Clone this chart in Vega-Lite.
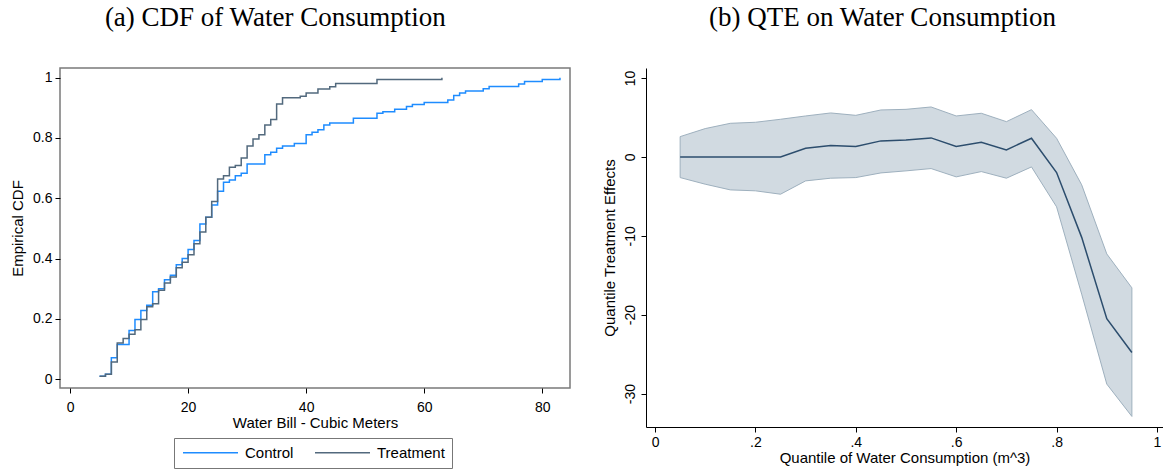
{
  "$schema": "https://vega.github.io/schema/vega-lite/v6.json",
  "padding": {"left": 9, "top": 3, "right": 0, "bottom": 0},
  "spacing": 31,
  "config": {
    "font": "Liberation Sans",
    "view": {"stroke": null},
    "axis": {"labelFont": "Liberation Sans", "labelFontSize": 14, "titleFont": "Liberation Sans", "titleFontSize": 15, "titleFontWeight": "normal", "labelColor": "#000", "titleColor": "#000", "tickColor": "#000", "domainColor": "#000", "grid": false, "tickSize": 5},
    "title": {"font": "Liberation Serif", "fontSize": 27, "fontWeight": "normal", "color": "#000", "anchor": "middle", "frame": "bounds"}
  },
  "hconcat": [
    {
      "title": {"text": "(a) CDF of Water Consumption", "offset": 36, "dx": -15},
      "width": 510,
      "height": 320,
      "view": {"stroke": "#7a7a7a", "strokeWidth": 1.5},
      "data": {"values": [
        {"group": "Control", "bill": 5, "cdf": 0.01},
        {"group": "Control", "bill": 6, "cdf": 0.017},
        {"group": "Control", "bill": 7, "cdf": 0.071},
        {"group": "Control", "bill": 8, "cdf": 0.115},
        {"group": "Control", "bill": 10, "cdf": 0.162},
        {"group": "Control", "bill": 11, "cdf": 0.198},
        {"group": "Control", "bill": 12, "cdf": 0.228},
        {"group": "Control", "bill": 13, "cdf": 0.245},
        {"group": "Control", "bill": 14, "cdf": 0.29},
        {"group": "Control", "bill": 15, "cdf": 0.30},
        {"group": "Control", "bill": 16, "cdf": 0.33},
        {"group": "Control", "bill": 17, "cdf": 0.345},
        {"group": "Control", "bill": 18, "cdf": 0.38},
        {"group": "Control", "bill": 19, "cdf": 0.40},
        {"group": "Control", "bill": 20, "cdf": 0.43},
        {"group": "Control", "bill": 21, "cdf": 0.46},
        {"group": "Control", "bill": 22, "cdf": 0.515},
        {"group": "Control", "bill": 23, "cdf": 0.537},
        {"group": "Control", "bill": 24, "cdf": 0.578},
        {"group": "Control", "bill": 25, "cdf": 0.623},
        {"group": "Control", "bill": 26, "cdf": 0.653},
        {"group": "Control", "bill": 27, "cdf": 0.661},
        {"group": "Control", "bill": 28, "cdf": 0.675},
        {"group": "Control", "bill": 29, "cdf": 0.683},
        {"group": "Control", "bill": 30, "cdf": 0.714},
        {"group": "Control", "bill": 33, "cdf": 0.744},
        {"group": "Control", "bill": 34, "cdf": 0.753},
        {"group": "Control", "bill": 35, "cdf": 0.766},
        {"group": "Control", "bill": 36, "cdf": 0.773},
        {"group": "Control", "bill": 38, "cdf": 0.782},
        {"group": "Control", "bill": 40, "cdf": 0.811},
        {"group": "Control", "bill": 41, "cdf": 0.819},
        {"group": "Control", "bill": 42, "cdf": 0.827},
        {"group": "Control", "bill": 43, "cdf": 0.843},
        {"group": "Control", "bill": 44, "cdf": 0.85},
        {"group": "Control", "bill": 48, "cdf": 0.865},
        {"group": "Control", "bill": 52, "cdf": 0.882},
        {"group": "Control", "bill": 53, "cdf": 0.887},
        {"group": "Control", "bill": 55, "cdf": 0.895},
        {"group": "Control", "bill": 57, "cdf": 0.904},
        {"group": "Control", "bill": 58, "cdf": 0.911},
        {"group": "Control", "bill": 60, "cdf": 0.918},
        {"group": "Control", "bill": 64, "cdf": 0.926},
        {"group": "Control", "bill": 65, "cdf": 0.941},
        {"group": "Control", "bill": 66, "cdf": 0.949},
        {"group": "Control", "bill": 67, "cdf": 0.956},
        {"group": "Control", "bill": 70, "cdf": 0.963},
        {"group": "Control", "bill": 71, "cdf": 0.971},
        {"group": "Control", "bill": 76, "cdf": 0.979},
        {"group": "Control", "bill": 77, "cdf": 0.987},
        {"group": "Control", "bill": 80, "cdf": 0.994},
        {"group": "Control", "bill": 83, "cdf": 1.0},
        {"group": "Treatment", "bill": 5, "cdf": 0.01},
        {"group": "Treatment", "bill": 6, "cdf": 0.017},
        {"group": "Treatment", "bill": 7, "cdf": 0.057},
        {"group": "Treatment", "bill": 8, "cdf": 0.12},
        {"group": "Treatment", "bill": 9, "cdf": 0.135},
        {"group": "Treatment", "bill": 10, "cdf": 0.149},
        {"group": "Treatment", "bill": 11, "cdf": 0.164},
        {"group": "Treatment", "bill": 12, "cdf": 0.198},
        {"group": "Treatment", "bill": 13, "cdf": 0.24},
        {"group": "Treatment", "bill": 14, "cdf": 0.25},
        {"group": "Treatment", "bill": 15, "cdf": 0.295},
        {"group": "Treatment", "bill": 16, "cdf": 0.319},
        {"group": "Treatment", "bill": 17, "cdf": 0.339},
        {"group": "Treatment", "bill": 18, "cdf": 0.37},
        {"group": "Treatment", "bill": 19, "cdf": 0.388},
        {"group": "Treatment", "bill": 20, "cdf": 0.413},
        {"group": "Treatment", "bill": 21, "cdf": 0.449},
        {"group": "Treatment", "bill": 22, "cdf": 0.488},
        {"group": "Treatment", "bill": 23, "cdf": 0.537},
        {"group": "Treatment", "bill": 24, "cdf": 0.589},
        {"group": "Treatment", "bill": 25, "cdf": 0.664},
        {"group": "Treatment", "bill": 26, "cdf": 0.675},
        {"group": "Treatment", "bill": 27, "cdf": 0.703},
        {"group": "Treatment", "bill": 28, "cdf": 0.709},
        {"group": "Treatment", "bill": 29, "cdf": 0.734},
        {"group": "Treatment", "bill": 30, "cdf": 0.773},
        {"group": "Treatment", "bill": 31, "cdf": 0.797},
        {"group": "Treatment", "bill": 32, "cdf": 0.811},
        {"group": "Treatment", "bill": 33, "cdf": 0.843},
        {"group": "Treatment", "bill": 34, "cdf": 0.861},
        {"group": "Treatment", "bill": 35, "cdf": 0.913},
        {"group": "Treatment", "bill": 36, "cdf": 0.933},
        {"group": "Treatment", "bill": 39, "cdf": 0.938},
        {"group": "Treatment", "bill": 40, "cdf": 0.949},
        {"group": "Treatment", "bill": 42, "cdf": 0.962},
        {"group": "Treatment", "bill": 44, "cdf": 0.970},
        {"group": "Treatment", "bill": 45, "cdf": 0.981},
        {"group": "Treatment", "bill": 52, "cdf": 0.994},
        {"group": "Treatment", "bill": 63, "cdf": 1.0}
      ]},
      "mark": {"type": "line", "interpolate": "step-after", "strokeWidth": 1.5},
      "encoding": {
        "x": {"field": "bill", "type": "quantitative", "scale": {"domain": [-1.7, 84.7], "nice": false, "zero": false},
              "axis": {"values": [0, 20, 40, 60, 80], "title": "Water Bill - Cubic Meters", "domain": false, "labelPadding": 7, "titlePadding": 1}},
        "y": {"field": "cdf", "type": "quantitative", "scale": {"domain": [-0.029, 1.032], "nice": false, "zero": false},
              "axis": {"values": [0, 0.2, 0.4, 0.6, 0.8, 1], "format": "~g", "title": "Empirical CDF", "domain": false, "labelPadding": 3, "titlePadding": 7}},
        "color": {"field": "group", "type": "nominal",
                  "scale": {"domain": ["Control", "Treatment"], "range": ["#1e8cff", "#52697d"]},
                  "legend": {"title": null, "orient": "none", "legendX": 114, "legendY": 370, "direction": "horizontal", "symbolType": "M-5,0H5", "symbolSize": 121, "symbolOffset": 22, "symbolStrokeWidth": 1.5, "labelFontSize": 15, "labelFont": "Liberation Sans", "labelColor": "#000", "strokeColor": "#777", "padding": 7, "columnPadding": 18, "labelOffset": 27}}
      }
    },
    {
      "title": {"text": "(b) QTE on Water Consumption", "offset": 36},
      "width": 517,
      "height": 359,
      "data": {"values": [
        {"q": 0.05, "est": 0, "lo": -2.62, "hi": 2.57},
        {"q": 0.10, "est": 0, "lo": -3.46, "hi": 3.59},
        {"q": 0.15, "est": 0, "lo": -4.18, "hi": 4.26},
        {"q": 0.20, "est": 0, "lo": -4.30, "hi": 4.39},
        {"q": 0.25, "est": 0, "lo": -4.73, "hi": 4.77},
        {"q": 0.30, "est": 1.10, "lo": -3.04, "hi": 5.19},
        {"q": 0.35, "est": 1.43, "lo": -2.70, "hi": 5.57},
        {"q": 0.40, "est": 1.31, "lo": -2.62, "hi": 5.27},
        {"q": 0.45, "est": 2.03, "lo": -2.03, "hi": 5.95},
        {"q": 0.50, "est": 2.15, "lo": -1.77, "hi": 6.03},
        {"q": 0.55, "est": 2.41, "lo": -1.48, "hi": 6.33},
        {"q": 0.60, "est": 1.31, "lo": -2.53, "hi": 5.19},
        {"q": 0.65, "est": 1.86, "lo": -1.86, "hi": 5.53},
        {"q": 0.70, "est": 0.89, "lo": -2.70, "hi": 4.47},
        {"q": 0.75, "est": 2.36, "lo": -1.27, "hi": 5.99},
        {"q": 0.80, "est": -1.98, "lo": -6.33, "hi": 2.36},
        {"q": 0.85, "est": -10.2, "lo": -17.4, "hi": -3.54},
        {"q": 0.90, "est": -20.5, "lo": -28.8, "hi": -12.3},
        {"q": 0.95, "est": -24.8, "lo": -32.9, "hi": -16.6}
      ]},
      "encoding": {
        "x": {"field": "q", "type": "quantitative", "scale": {"domain": [-0.018, 1.012], "nice": false, "zero": false},
              "axis": {"values": [0, 0.2, 0.4, 0.6, 0.8, 1], "labelExpr": "datum.value == 0 ? '0' : datum.value == 1 ? '1' : '.' + round(datum.value * 10)", "title": "Quantile of Water Consumption (m^3)", "labelPadding": 3, "titlePadding": 1}}
      },
      "layer": [
        {
          "mark": {"type": "area", "fill": "#d1dae1", "stroke": "#9eb0be", "strokeWidth": 1},
          "encoding": {
            "y": {"field": "lo", "type": "quantitative", "scale": {"domain": [-34.24, 11.27], "nice": false, "zero": false},
                  "axis": {"values": [-30, -20, -10, 0, 10], "labelExpr": "'' + datum.value", "labelAngle": -90, "labelAlign": "center", "labelBaseline": "bottom", "labelPadding": 4, "title": "Quantile Treatment Effects", "titlePadding": 6}},
            "y2": {"field": "hi"}
          }
        },
        {
          "mark": {"type": "rule", "color": "#e8a3b4", "strokeWidth": 1.2, "strokeDash": [8, 5]},
          "encoding": {"y": {"datum": 0}}
        },
        {
          "mark": {"type": "line", "color": "#2c4d6d", "strokeWidth": 1.5},
          "encoding": {"y": {"field": "est", "type": "quantitative"}}
        }
      ]
    }
  ]
}
